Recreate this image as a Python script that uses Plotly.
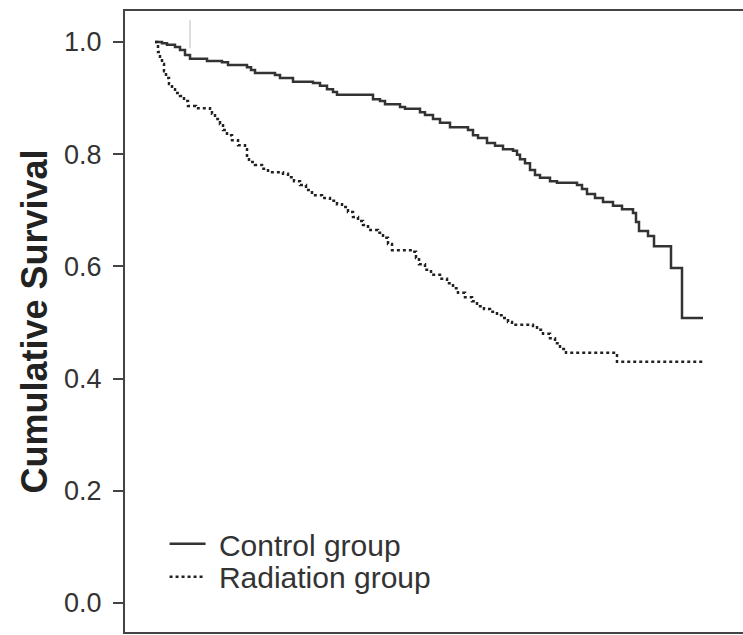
import plotly.graph_objects as go

# Kaplan-Meier estimates (time in months, arbitrary scale)
control_time = [0, 1.4, 2.4, 4.0, 5.0, 6.0, 7.0, 10.4, 13.4, 14.6,
                18.4, 19.2, 20.0, 24.0, 25.0, 27.6, 31.6, 33.0, 34.4, 35.6,
                36.4, 43.6, 45.0, 46.0, 49.0, 50.0, 53.0, 54.0, 55.6, 57.0,
                59.0, 62.6, 63.6, 64.6, 66.4, 68.0, 69.6, 71.6, 72.4, 73.0,
                74.0, 75.0, 76.0, 77.0, 79.0, 80.4, 84.4, 85.4, 86.4, 88.0,
                89.6, 91.6, 93.4, 95.6, 96.2, 96.8, 98.6, 99.8, 103.2, 105.4,
                109.6]
control_surv = [1.000, 0.998, 0.995, 0.991, 0.986, 0.977, 0.970, 0.966, 0.964, 0.959,
                0.955, 0.950, 0.945, 0.941, 0.936, 0.929, 0.927, 0.922, 0.916, 0.911,
                0.906, 0.898, 0.895, 0.889, 0.884, 0.881, 0.875, 0.870, 0.863, 0.856,
                0.848, 0.843, 0.834, 0.829, 0.820, 0.815, 0.809, 0.806, 0.799, 0.791,
                0.784, 0.772, 0.763, 0.758, 0.752, 0.749, 0.745, 0.738, 0.729, 0.722,
                0.715, 0.708, 0.702, 0.695, 0.679, 0.663, 0.654, 0.636, 0.597, 0.508,
                0.508]

radiation_time = [0, 0.4, 0.6, 1.0, 1.4, 1.8, 2.2, 2.8, 3.4, 4.0,
                  5.0, 5.8, 6.6, 8.2, 11.0, 11.4, 12.0, 13.0, 13.6, 14.4,
                  15.4, 16.6, 18.0, 18.4, 18.8, 20.0, 21.4, 22.6, 25.6, 26.6,
                  27.8, 29.0, 30.2, 31.4, 33.4, 35.0, 36.4, 37.4, 38.6, 39.6,
                  40.6, 41.6, 42.6, 44.6, 45.6, 46.6, 47.4, 51.6, 52.2, 52.8,
                  54.0, 55.2, 57.0, 58.4, 59.6, 60.6, 62.0, 63.4, 64.4, 65.8,
                  67.0, 68.4, 69.6, 70.6, 71.4, 75.6, 76.4, 77.6, 79.0, 80.0,
                  81.0, 82.2, 92.4, 109.6]
radiation_surv = [1.000, 0.995, 0.982, 0.971, 0.961, 0.948, 0.936, 0.925, 0.916, 0.909,
                  0.904, 0.895, 0.886, 0.882, 0.881, 0.872, 0.863, 0.854, 0.843, 0.834,
                  0.825, 0.816, 0.809, 0.795, 0.786, 0.781, 0.774, 0.768, 0.765, 0.759,
                  0.752, 0.745, 0.736, 0.727, 0.722, 0.717, 0.711, 0.706, 0.697, 0.688,
                  0.681, 0.674, 0.665, 0.660, 0.651, 0.640, 0.629, 0.626, 0.615, 0.604,
                  0.594, 0.585, 0.578, 0.570, 0.561, 0.553, 0.545, 0.538, 0.529, 0.524,
                  0.519, 0.513, 0.508, 0.501, 0.496, 0.494, 0.487, 0.480, 0.472, 0.463,
                  0.453, 0.446, 0.430, 0.430]

# censoring tick seen near the top
censor_time = [7.0]
censor_surv = [1.014]

y_ticks = [0.0, 0.2, 0.4, 0.6, 0.8, 1.0]

font_fam = 'Arial, Liberation Sans, sans-serif'

fig = go.Figure()
fig.add_trace(go.Scatter(x=control_time, y=control_surv, name='\u00a0Control group',
                         mode='lines', line_shape='hv', legend='legend',
                         line=dict(color='#333333', width=2.5)))
fig.add_trace(go.Scatter(x=radiation_time, y=radiation_surv, name='\u00a0Radiation group',
                         mode='lines', line_shape='hv', legend='legend2',
                         line=dict(color='#222222', width=2.5, dash='dot')))
fig.add_trace(go.Scatter(x=censor_time, y=censor_surv, mode='markers', showlegend=False,
                         marker=dict(symbol='line-ns', size=20,
                                     line=dict(color='#c8c8c8', width=1.2))))

leg = dict(xanchor='left', yanchor='middle', bgcolor='rgba(0,0,0,0)',
           font=dict(size=30, color='#333333'), itemwidth=36)

fig.update_layout(
    width=743, height=635,
    margin=dict(l=125, r=0, t=11, b=3),
    plot_bgcolor='white', paper_bgcolor='white',
    font=dict(family=font_fam, size=27, color='#333333'),
    showlegend=True,
    legend=dict(leg, x=0.064, y=0.142),
    legend2=dict(leg, x=0.064, y=0.089),
    xaxis=dict(range=[-6, 117.6], showgrid=False, zeroline=False,
               showticklabels=False, ticks='',
               showline=True, linecolor='#444444', linewidth=2, mirror=True),
    yaxis=dict(range=[-0.0517, 1.0553], showgrid=False, zeroline=False,
               tickvals=y_ticks, ticktext=[f'{v:.1f}' for v in y_ticks],
               ticks='outside', ticklen=10, tickwidth=2, tickcolor='#444444',
               ticklabelstandoff=6,
               showline=True, linecolor='#444444', linewidth=2,
               title=dict(text='<b>Cumulative Survival</b>',
                          font=dict(size=36, color='#222222'), standoff=5)),
)

fig.write_html("out.html", config={'displayModeBar': False},
               post_script="document.body.style.margin='0';document.body.style.overflow='hidden';")
